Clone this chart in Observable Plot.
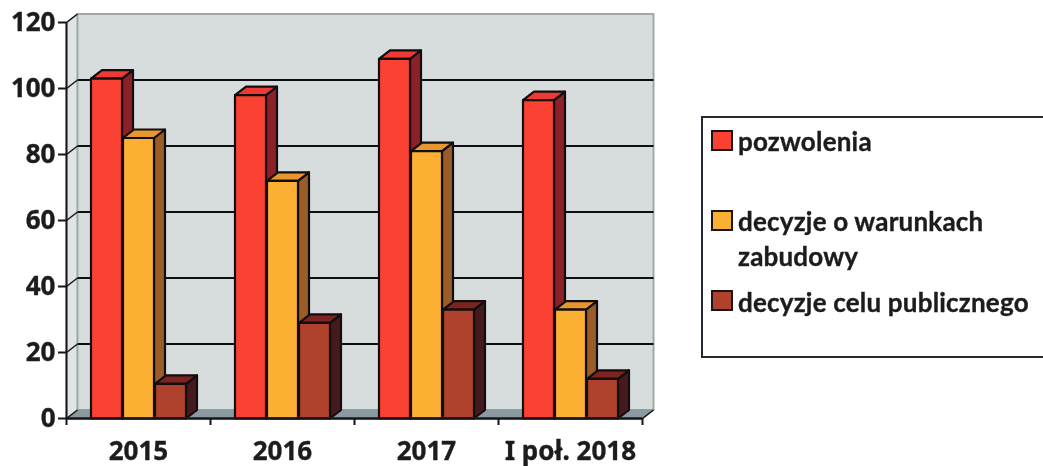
<!DOCTYPE html>
<html lang="pl">
<head>
<meta charset="utf-8">
<script src="https://cdn.jsdelivr.net/npm/d3@7"></script>
<script src="https://cdn.jsdelivr.net/npm/@observablehq/plot@0.6"></script>
<style>
  html, body { margin: 0; padding: 0; background: #fff; overflow: hidden; }
  #page { position: relative; width: 1043px; height: 466px; filter: blur(0.6px); font-family: Lato, sans-serif; font-weight: 700; color: #1c1c1e; }
  #chart svg { display: block; position: absolute; left: 0; top: 0; overflow: visible; }
  #chart svg text { paint-order: stroke; stroke: #1c1c1e; stroke-width: 0.35px; }
  #legend { position: absolute; left: 701px; top: 116px; width: 350px; height: 242px; box-sizing: border-box; border: 2px solid #222a33; background: #fff; }
  .sw { position: absolute; left: 8px; width: 18px; height: 17px; border: 2px solid #1c1416; }
  .lab { position: absolute; left: 35px; font-size: 26px; line-height: 28px; white-space: nowrap; letter-spacing: 0.2px; -webkit-text-stroke: 0.35px #1c1c1e; }
</style>
</head>
<body>
<div id="page">
  <div id="chart"></div>
  <div id="legend"></div>
</div>
<script>
const categories = ["2015", "2016", "2017", "I poł. 2018"];
const seriesNames = ["pozwolenia", "decyzje o warunkach\nzabudowy", "decyzje celu publicznego"];
const pozwolenia = [103, 98, 109, 96.5];
const warunki = [85, 72, 81, 33];
const celu = [10.5, 29, 33, 12];
const yTicks = [0, 20, 40, 60, 80, 100, 120];

const series = [pozwolenia, warunki, celu];
const frontColors = ["#fb4232", "#fcb033", "#b0412c"];
const topColors = ["#ee3a35", "#e8962f", "#7d2421"];
const sideColors = ["#8c2227", "#9a5d27", "#451a1d"];

// depth and layout of the pseudo-3D, in data units
const depthX = 11 / 144;
const depthY = 8.5 / 3.3;
const barStart = 24.5 / 144;
const barW = 32 / 144;
const yMax = yTicks[yTicks.length - 1];
const xMax = categories.length;

const faces = [];
function face(id, color, pts) { pts.forEach(([x, y]) => faces.push({id, color, x, y})); }

categories.forEach((c, i) => {
  series.forEach((vals, s) => {
    const x0 = i + barStart + s * barW, x1 = x0 + barW - 1 / 144, v = vals[i];
    face(`${i}-${s}-side`, sideColors[s], [[x1, 0], [x1 + depthX, depthY], [x1 + depthX, v + depthY], [x1, v]]);
    face(`${i}-${s}-top`, topColors[s], [[x0, v], [x0 + depthX, v + depthY], [x1 + depthX, v + depthY], [x1, v]]);
    face(`${i}-${s}-front`, frontColors[s], [[x0, 0], [x0, v], [x1, v], [x1, 0]]);
  });
});

const wall = [[depthX, depthY], [depthX, yMax + depthY], [xMax + depthX, yMax + depthY], [xMax + depthX, depthY]].map(([x, y]) => ({x, y}));
const sideWall = [[0, 0], [0, yMax], [depthX, yMax + depthY], [depthX, depthY]].map(([x, y]) => ({x, y}));
const floor = [[0, 0], [depthX, depthY], [xMax + depthX, depthY], [xMax, 0]].map(([x, y]) => ({x, y}));
const gridVals = yTicks.filter(v => v > 0 && v < yMax);

const plot = Plot.plot({
  width: 1043, height: 466,
  marginLeft: 66, marginRight: 401, marginTop: 22, marginBottom: 48,
  x: {domain: [0, xMax]},
  y: {domain: [0, yMax]},
  marks: [
    Plot.line(sideWall, {x: "x", y: "y", curve: "linear-closed", fill: "#dfe4e7", stroke: "#a9adb0", strokeWidth: 1.5}),
    Plot.line(wall, {x: "x", y: "y", curve: "linear-closed", fill: "#d7dcdc", stroke: "#a4a7a8", strokeWidth: 2}),
    Plot.line(floor, {x: "x", y: "y", curve: "linear-closed", fill: "#8a9a9e", stroke: "#8a9a9e"}),
    Plot.link(gridVals, {x1: depthX, x2: xMax + depthX, y1: d => d + depthY, y2: d => d + depthY, stroke: "#0d0d14", strokeWidth: 2.2}),
    Plot.link(yTicks, {x1: 0, x2: depthX, y1: d => d, y2: d => d + depthY, stroke: "#15151a", strokeWidth: 1.5}),
    Plot.link([0], {x1: xMax, x2: xMax + depthX, y1: 0, y2: depthY, stroke: "#15151a", strokeWidth: 1.5}),
    Plot.line(faces, {x: "x", y: "y", z: "id", fill: "color", curve: "linear-closed", stroke: "#120d0f", strokeWidth: 2.2, strokeLinejoin: "round"}),
    Plot.ruleX([0], {stroke: "#15151a", strokeWidth: 2}),
    Plot.ruleY([0], {stroke: "#15151a", strokeWidth: 2.5}),
    Plot.axisY({ticks: yTicks, tickSize: 8, tickPadding: 3, stroke: "#15151a", strokeWidth: 2, fontSize: 26, fontWeight: 700, label: null, color: "#1c1c1e"}),
    Plot.axisX({ticks: d3.range(0, xMax + 1), tickSize: 7, tickFormat: () => "", stroke: "#15151a", strokeWidth: 2, label: null}),
    Plot.text(categories, {x: (d, i) => i + 0.5, y: 0, text: d => d, dy: 33, fontSize: 26, fontWeight: 700, fill: "#1c1c1e"})
  ]
});
document.getElementById("chart").append(plot);

// legend
const legend = document.getElementById("legend");
const swatchTops = [12, 92, 172];
const labelTops = [9, [89, 124], 170];
seriesNames.forEach((name, s) => {
  const sw = document.createElement("div");
  sw.className = "sw";
  sw.style.top = swatchTops[s] + "px";
  sw.style.background = frontColors[s];
  legend.append(sw);
  const tops = [].concat(labelTops[s]);
  name.split("\n").forEach((line, k) => {
    const t = document.createElement("div");
    t.className = "lab";
    t.style.top = tops[k] + "px";
    t.textContent = line;
    legend.append(t);
  });
});
</script>
</body>
</html>
